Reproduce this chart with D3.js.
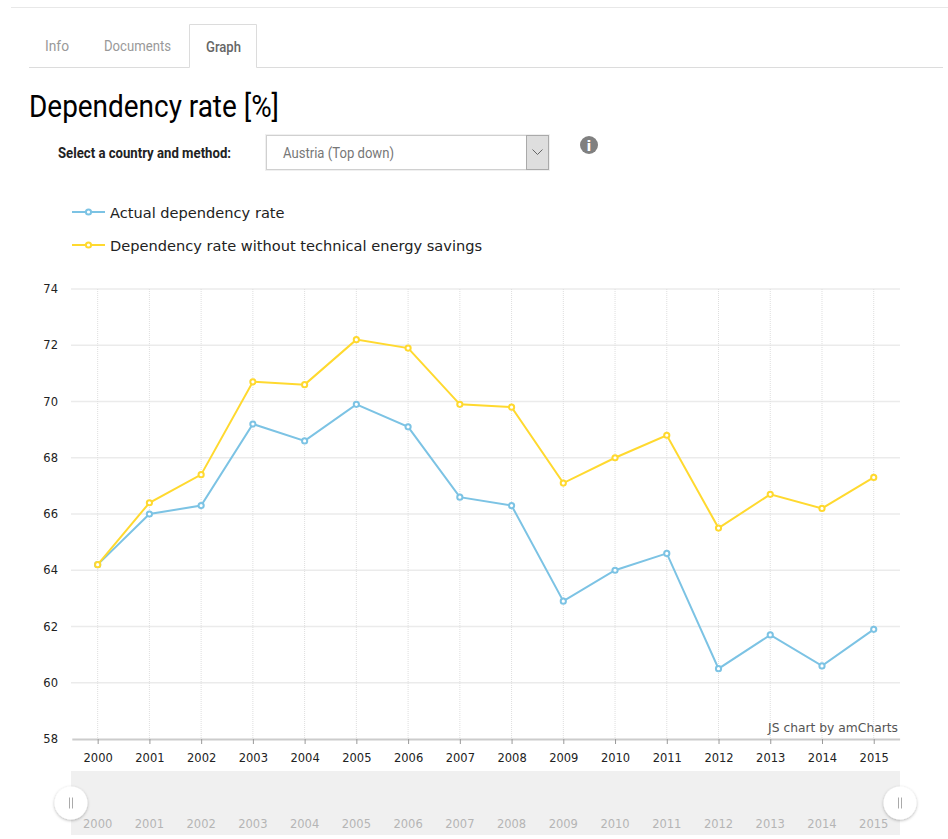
<!DOCTYPE html>
<html>
<head>
<meta charset="utf-8">
<script src="https://cdnjs.cloudflare.com/ajax/libs/d3/7.8.5/d3.min.js"></script>
<style>
html, body { margin: 0; padding: 0; background: #fff; overflow: hidden; }
text { font-family: "DejaVu Sans", sans-serif; }
.ui { font-family: Roboto, sans-serif; }
</style>
</head>
<body>
<div id="chart"></div>
<script>
var years = ["2000","2001","2002","2003","2004","2005","2006","2007","2008","2009","2010","2011","2012","2013","2014","2015"];
var actualRate = [64.2,66.0,66.3,69.2,68.6,69.9,69.1,66.6,66.3,62.9,64.0,64.6,60.5,61.7,60.6,61.9];
var withoutSavings = [64.2,66.4,67.4,70.7,70.6,72.2,71.9,69.9,69.8,67.1,68.0,68.8,65.5,66.7,66.2,67.3];
var yTicks = [58,60,62,64,66,68,70,72,74];
var seriesNames = ["Actual dependency rate", "Dependency rate without technical energy savings"];
var seriesColors = ["#7cc3e4", "#ffd92f"];
var tabs = ["Info", "Documents", "Graph"];

var svg = d3.select("#chart").append("svg")
    .attr("width", 948)
    .attr("height", 839)
    .style("display", "block");

// page header, tabs and selector
svg.append("line").attr("x1", 11).attr("x2", 948).attr("y1", 7.5).attr("y2", 7.5).attr("stroke", "#e8e8e8");
svg.append("path")
    .attr("d", "M29,67.5H189.5V24.5H256.5V67.5H943")
    .attr("fill", "none").attr("stroke", "#dcdcdc");

// condensed look: Roboto squeezed to the measured width
function uiText(x, y, str, size, width, color, weight) {
  return svg.append("text").attr("class", "ui")
    .attr("x", x).attr("y", y)
    .attr("font-size", size)
    .attr("font-weight", weight || 400)
    .attr("fill", color)
    .attr("textLength", width)
    .attr("lengthAdjust", "spacingAndGlyphs")
    .text(str);
}
uiText(45, 51, tabs[0], 15, 24, "#999");
uiText(104, 51, tabs[1], 15, 67, "#999");
uiText(206, 52, tabs[2], 15, 35, "#666", 500);
uiText(29, 117, "Dependency rate [%]", 32, 250, "#000");
uiText(58, 158, "Select a country and method:", 15, 173, "#222", 700);

svg.append("rect").attr("x", 265).attr("y", 134).attr("width", 285).attr("height", 37)
    .attr("fill", "#f0f0f0");
svg.append("rect").attr("x", 266.5).attr("y", 135.5).attr("width", 282).attr("height", 34)
    .attr("fill", "#fff").attr("stroke", "#d0d0d0");
svg.append("rect").attr("x", 526.5).attr("y", 135.5).attr("width", 22).attr("height", 34)
    .attr("fill", "#dedede").attr("stroke", "#aaa");
svg.append("path").attr("d", "M532.5,149.5l5,5l5,-5").attr("fill", "none").attr("stroke", "#666");
uiText(283, 158, "Austria (Top down)", 15, 111, "#777");

svg.append("circle").attr("cx", 589).attr("cy", 145).attr("r", 9).attr("fill", "#808080");
svg.append("text").attr("x", 589).attr("y", 151).attr("text-anchor", "middle")
    .attr("font-size", 14).attr("font-weight", 700).attr("font-family", "DejaVu Serif").attr("fill", "#fff").text("i");

// chart
var margin = {top: 289, left: 71, right: 48, bottom: 100};
var width = 948 - margin.left - margin.right;
var height = 839 - margin.top - margin.bottom;

var x = d3.scalePoint().domain(years).range([0.8, width - 0.4]).padding(0.5);
var y = d3.scaleLinear().domain([58, 74]).range([height, 0]);

var g = svg.append("g").attr("transform", "translate(" + margin.left + "," + margin.top + ")");

// grid
g.selectAll(".hgrid").data(yTicks.slice(1)).enter().append("line")
    .attr("class", "hgrid")
    .attr("x1", 0).attr("x2", width)
    .attr("y1", function(d) { return y(d); })
    .attr("y2", function(d) { return y(d); })
    .attr("stroke", "#ebebeb").attr("stroke-width", 1.5);
g.selectAll(".vgrid").data(years).enter().append("line")
    .attr("class", "vgrid")
    .attr("x1", function(d) { return x(d); })
    .attr("x2", function(d) { return x(d); })
    .attr("y1", 0).attr("y2", height)
    .attr("stroke", "#dedede").attr("stroke-dasharray", "1,1");

// axes
var yAxis = g.append("g").call(d3.axisLeft(y).tickValues(yTicks).tickSize(0).tickPadding(13));
yAxis.select(".domain").remove();
yAxis.selectAll("text").attr("font-size", 11.5).attr("font-family", "DejaVu Sans").attr("fill", "#222");

var xAxis = g.append("g").attr("transform", "translate(0," + height + ")")
    .call(d3.axisBottom(x).tickSize(5).tickSizeOuter(0).tickPadding(10));
xAxis.select(".domain").attr("stroke", "#cccccc").attr("stroke-width", 2);
xAxis.selectAll("line").attr("stroke", "#999");
xAxis.selectAll("text").attr("font-size", 11.5).attr("font-family", "DejaVu Sans").attr("fill", "#222");

g.append("text").attr("x", width - 2).attr("y", height - 7).attr("text-anchor", "end")
    .attr("font-size", 12.3).attr("fill", "#555").text("JS chart by amCharts");

// series
var line = d3.line()
    .x(function(d, i) { return x(years[i]); })
    .y(function(d) { return y(d); });

[actualRate, withoutSavings].forEach(function(values, s) {
  g.append("path").datum(values)
      .attr("d", line)
      .attr("fill", "none")
      .attr("stroke", seriesColors[s])
      .attr("stroke-width", 2);
  g.selectAll(".pt" + s).data(values).enter().append("circle")
      .attr("class", "pt" + s)
      .attr("cx", function(d, i) { return x(years[i]); })
      .attr("cy", function(d) { return y(d); })
      .attr("r", 2.6)
      .attr("fill", "#fff")
      .attr("stroke", seriesColors[s])
      .attr("stroke-width", 2);
});

// legend
var legend = svg.selectAll(".legend").data(seriesNames).enter().append("g")
    .attr("class", "legend")
    .attr("transform", function(d, i) { return "translate(72," + (212 + i * 33) + ")"; });
legend.append("line").attr("x1", 0).attr("x2", 33)
    .attr("stroke", function(d, i) { return seriesColors[i]; }).attr("stroke-width", 2);
legend.append("circle").attr("cx", 16.5).attr("r", 2.6).attr("fill", "#fff")
    .attr("stroke", function(d, i) { return seriesColors[i]; }).attr("stroke-width", 2);
legend.append("text").attr("x", 38).attr("y", 6).attr("font-size", 14.6).attr("fill", "#222")
    .text(function(d) { return d; });

// scrollbar
var scrollTop = 771, scrollH = 64;
svg.append("rect").attr("x", margin.left).attr("y", scrollTop).attr("width", width).attr("height", scrollH).attr("fill", "#f0f0f0");
svg.append("g").selectAll("text").data(years).enter().append("text")
    .attr("x", function(d) { return margin.left + x(d); })
    .attr("y", 828)
    .attr("text-anchor", "middle")
    .attr("font-size", 11.5)
    .attr("fill", "#b5b5b5")
    .text(function(d) { return d; });

var shadow = svg.append("defs").append("filter").attr("id", "grip-shadow")
    .attr("x", "-30%").attr("y", "-30%").attr("width", "160%").attr("height", "160%");
shadow.append("feDropShadow").attr("dx", 0).attr("dy", 1).attr("stdDeviation", 1.5)
    .attr("flood-color", "#000").attr("flood-opacity", 0.3);

var grips = svg.selectAll(".grip").data([margin.left, margin.left + width]).enter().append("g")
    .attr("class", "grip")
    .attr("transform", function(d) { return "translate(" + d + ",803)"; });
grips.append("circle").attr("r", 16.5).attr("fill", "#fff").attr("filter", "url(#grip-shadow)");
grips.append("path").attr("d", "M-1.5,-5.5V5.5M1.5,-5.5V5.5").attr("stroke", "#aaa").attr("fill", "none");
</script>
</body>
</html>
